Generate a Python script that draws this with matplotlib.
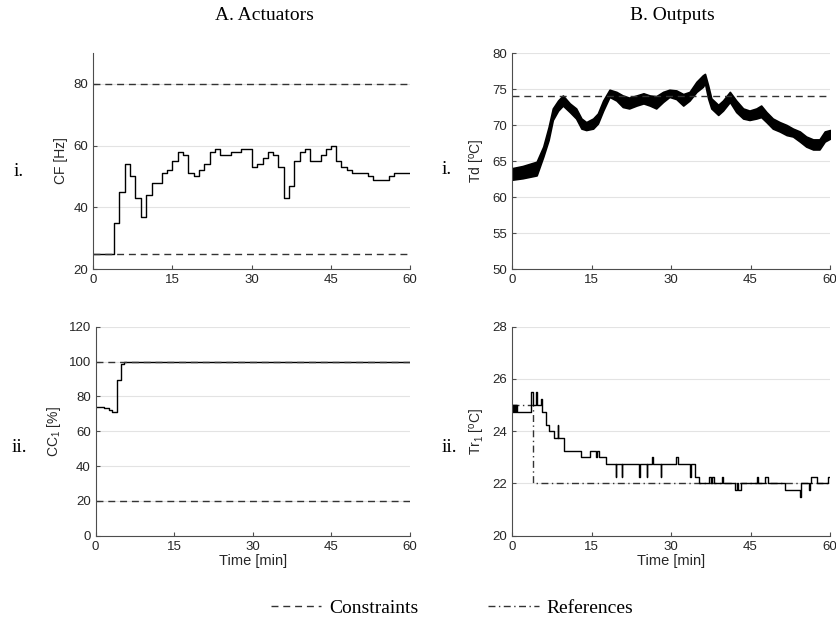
import matplotlib
matplotlib.use("Agg")
import matplotlib.pyplot as plt
from matplotlib.lines import Line2D

plt.rcParams['font.family'] = ['Liberation Sans', 'DejaVu Sans']
plt.rcParams['mathtext.default'] = 'regular'

# --- data ---
# A.i  CF [Hz], step signal (value holds from each time until the next)
cf_t = [0, 4, 5, 6.05, 7.1, 8.05, 9.1, 10.1, 11.1, 13.1, 14, 15.05, 16.05, 17.1, 18, 19.1,
        20.1, 21.1, 22.1, 23.05, 24.1, 26.1, 28.1, 30.1, 31, 32.1, 33.1, 34.1, 35.1, 36.1,
        37.1, 38.1, 39.1, 40.1, 41.1, 43.1, 44.1, 45.1, 46, 47, 48, 49, 52, 53, 56, 57, 60]
cf_v = [25, 35, 45, 54, 50, 43, 37, 44, 48, 51, 52, 55, 58, 57, 51, 50,
        52, 54, 58, 59, 57, 58, 59, 53, 54, 56, 58, 57, 53, 43,
        47, 55, 58, 59, 55, 57, 59, 60, 55, 53, 52, 51, 50, 49, 50, 51, 51]
cf_limits = [25, 80]

# A.ii  CC1 [%]
cc_t = [0, 1.5, 2.5, 3.1, 4.0, 4.8, 5.5, 7, 60]
cc_v = [73.7, 73.2, 72.3, 71.0, 89.5, 98.8, 99.7, 100, 100]
cc_limits = [20, 100]

# B.i  Td [oC], noisy measurement given as lower / upper envelope
td_t = [0, 2, 4.65, 5.9, 6.9, 7.7, 8.7, 9.6, 10.9, 12.1, 13.1, 14.0, 15.3, 16.2, 17.2,
        18.4, 19.7, 20.9, 22.1, 23.5, 24.8, 26.0, 27.2, 28.5, 29.7, 31.0, 32.3, 33.5,
        34.8, 36.0, 36.4, 37.0, 37.6, 38.9, 39.8, 41.1, 42.3, 43.6, 44.8, 46.1, 47.0,
        48.0, 49.2, 50.5, 51.8, 53.0, 54.3, 55.5, 56.8, 58.0, 59.0, 60]
td_lo = [62.4, 62.6, 63.0, 65.6, 67.9, 70.7, 72.0, 72.7, 71.8, 70.9, 69.5, 69.3, 69.5, 70.2, 72.0,
         73.9, 73.4, 72.5, 72.3, 72.7, 73.0, 72.7, 72.3, 73.2, 73.9, 73.6, 72.7, 73.4,
         74.6, 75.3, 75.8, 73.7, 72.3, 71.4, 72.0, 73.2, 71.8, 70.9, 70.7, 70.9, 71.1,
         70.4, 69.5, 69.1, 68.6, 68.4, 67.7, 67.0, 66.6, 66.6, 67.7, 68.1]
td_hi = [64.0, 64.3, 64.9, 67.0, 69.7, 72.3, 73.4, 74.1, 73.0, 72.3, 70.9, 70.4, 70.9, 71.6, 73.4,
         74.9, 74.6, 74.1, 73.8, 74.1, 74.4, 74.1, 74.0, 74.6, 74.9, 74.8, 74.3, 74.6,
         76.0, 76.9, 77.1, 75.5, 73.7, 72.8, 73.4, 74.6, 73.4, 72.3, 72.0, 72.3, 72.7,
         71.8, 70.9, 70.4, 70.0, 69.5, 69.1, 68.4, 68.0, 68.0, 69.1, 69.3]
td_limit = 74

# B.ii  Tr1 [oC], quantised step signal with spikes
tr_t = [0, 0.1, 0.2, 0.3, 0.4, 0.5, 0.6, 0.7, 0.8, 0.9, 1.0, 3.6, 4.0, 4.6, 4.8, 5.5, 5.7,
        6.5, 7.0, 8.0, 8.6, 8.75, 9.9, 13.0, 14.7, 15.9, 16.05, 16.5, 17.7,
        19.6, 19.7, 20.7, 20.8, 24.0, 24.1, 25.4, 25.5, 26.4, 26.6, 28.1, 28.2,
        31.0, 31.3, 33.5, 33.7, 34.5, 35.3, 37.2, 37.5, 37.7, 38.1, 39.6, 39.75,
        42.0, 42.4, 42.55, 43.2, 46.3, 46.45, 47.7, 48.3, 51.5, 54.3, 54.5, 56.0,
        56.15, 56.5, 57.5, 59.6, 60]
tr_v = [25, 24.75, 25, 24.75, 25, 24.75, 25, 24.75, 25, 24.75, 24.75, 25.5, 25, 25.5, 25, 25.25, 24.75,
        24.25, 24, 23.75, 24.25, 23.75, 23.25, 23, 23.25, 23, 23.25, 23, 22.75,
        22.25, 22.75, 22.25, 22.75, 22.25, 22.75, 22.25, 22.75, 23, 22.75, 22.25, 22.75,
        23, 22.75, 22.25, 22.75, 22.25, 22, 22.25, 22, 22.25, 22, 22.25, 22,
        21.75, 22, 21.75, 22, 22.25, 22, 22.25, 22, 21.75, 21.5, 22, 21.75,
        22, 22.25, 22, 22.25, 22.25]
ref_t = [0, 3.9, 3.9, 60]
ref_v = [25, 25, 22, 22]

x_ticks = [0, 15, 30, 45, 60]

# --- figure ---
fig = plt.figure(figsize=(8.37, 6.25), dpi=100)
ax_cf = fig.add_axes([0.111, 0.5696, 0.379, 0.3456])
ax_td = fig.add_axes([0.6117, 0.5696, 0.380, 0.3456])
ax_cc = fig.add_axes([0.1143, 0.1429, 0.3755, 0.3344])
ax_tr = fig.add_axes([0.6117, 0.1429, 0.380, 0.3344])

dash = (5, 3.5)
dashdot = (5, 2.5, 1, 2.5)
axis_col = '#4d4d4d'
text_col = '#262626'

for ax in (ax_cf, ax_td, ax_cc, ax_tr):
    ax.set_xlim(0, 60)
    ax.set_xticks(x_ticks)
    ax.spines['top'].set_visible(False)
    ax.spines['right'].set_visible(False)
    ax.spines['left'].set_color(axis_col)
    ax.spines['bottom'].set_color(axis_col)
    ax.tick_params(direction='in', length=3, color=axis_col, labelcolor=text_col, labelsize=9.5)
    ax.yaxis.grid(True, color='#e3e3e3', lw=0.8)
    ax.set_axisbelow(True)

# A.i
ax_cf.step(cf_t, cf_v, where='post', color='black', lw=1.0)
for c in cf_limits:
    ax_cf.axhline(c, color='#333333', lw=1.0, dashes=dash)
ax_cf.set_ylim(20, 90)
ax_cf.set_yticks([20, 40, 60, 80])
ax_cf.set_ylabel('CF [Hz]', fontsize=10, color=text_col)

# B.i
ax_td.fill_between(td_t, td_lo, td_hi, color='black', lw=1.2)
ax_td.axhline(td_limit, color='#333333', lw=1.0, dashes=dash)
ax_td.set_ylim(50, 80)
ax_td.set_yticks([50, 55, 60, 65, 70, 75, 80])
ax_td.set_ylabel('Td [$^{o}$C]', fontsize=10, color=text_col)

# A.ii
ax_cc.step(cc_t, cc_v, where='post', color='black', lw=1.0)
for c in cc_limits:
    ax_cc.axhline(c, color='#333333', lw=1.0, dashes=dash)
ax_cc.set_ylim(0, 120)
ax_cc.set_yticks([0, 20, 40, 60, 80, 100, 120])
ax_cc.set_ylabel('CC$_1$ [%]', fontsize=10, color=text_col)
ax_cc.set_xlabel('Time [min]', fontsize=10.5, color=text_col, labelpad=1)

# B.ii
ax_tr.plot(ref_t, ref_v, color='#333333', lw=1.0, dashes=dashdot)
ax_tr.step(tr_t, tr_v, where='post', color='black', lw=1.0)
ax_tr.set_ylim(20, 28)
ax_tr.set_yticks([20, 22, 24, 26, 28])
ax_tr.set_ylabel('Tr$_1$ [$^{o}$C]', fontsize=10, color=text_col)
ax_tr.set_xlabel('Time [min]', fontsize=10.5, color=text_col, labelpad=1)

# titles and panel labels
serif = ['Liberation Serif', 'DejaVu Serif']
fig.text(264 / 837, 1 - 15 / 625, 'A. Actuators', ha='center', va='center', fontsize=14, family=serif)
fig.text(672 / 837, 1 - 15 / 625, 'B. Outputs', ha='center', va='center', fontsize=14, family=serif)
fig.text(19 / 837, 1 - 172 / 625, 'i.', ha='center', va='center', fontsize=14, family=serif)
fig.text(447 / 837, 1 - 170 / 625, 'i.', ha='center', va='center', fontsize=14, family=serif)
fig.text(19 / 837, 1 - 448 / 625, 'ii.', ha='center', va='center', fontsize=14, family=serif)
fig.text(449 / 837, 1 - 447 / 625, 'ii.', ha='center', va='center', fontsize=14, family=serif)

handles = [Line2D([], [], color='#333333', lw=1.0, dashes=dash),
           Line2D([], [], color='#333333', lw=1.0, dashes=dashdot)]
fig.legend(handles, ['Constraints', 'References'], loc='center', bbox_to_anchor=(452 / 837, 1 - 608 / 625),
           ncol=2, frameon=False, handlelength=2.6, handletextpad=0.4, columnspacing=3.6,
           prop={'family': serif, 'size': 14})

fig.savefig('out.png', dpi=100)
